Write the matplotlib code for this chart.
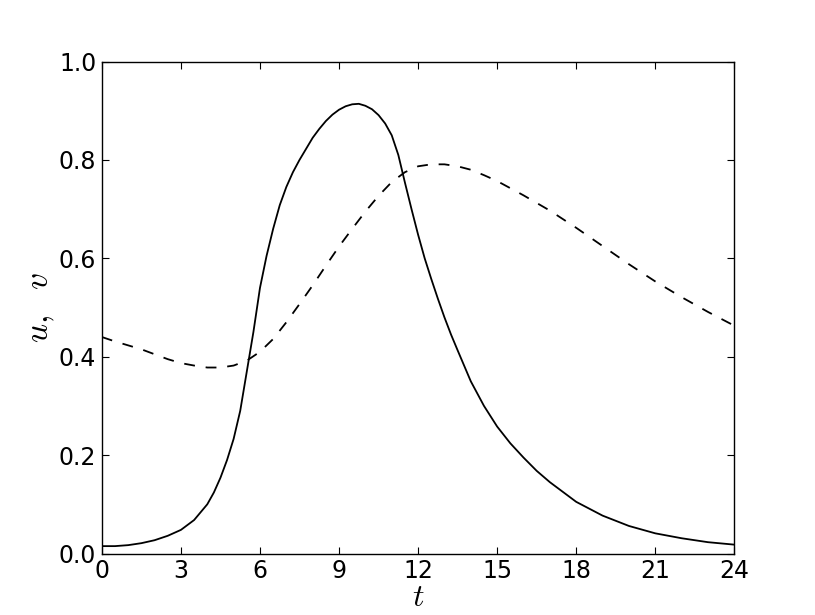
import matplotlib
matplotlib.use('Agg')
import matplotlib.pyplot as plt

# solid curve u(t)
t_u = [0, 0.5, 1, 1.5, 2, 2.5, 3, 3.5, 4, 4.25, 4.5, 4.75, 5, 5.25, 5.5, 5.75, 6,
       6.25, 6.5, 6.75, 7, 7.25, 7.5, 8, 8.25, 8.5, 8.75, 9, 9.25, 9.5, 9.75, 10,
       10.25, 10.5, 10.75, 11, 11.25, 11.5, 11.75, 12, 12.25, 12.5, 12.75, 13,
       13.25, 13.5, 14, 14.5, 15, 15.5, 16, 16.5, 17, 18, 19, 20, 21, 22, 23, 24]
u = [0.015, 0.015, 0.017, 0.021, 0.027, 0.036, 0.048, 0.068, 0.1, 0.124, 0.154,
     0.19, 0.233, 0.29, 0.37, 0.45, 0.54, 0.605, 0.66, 0.708, 0.745, 0.775, 0.8,
     0.845, 0.863, 0.879, 0.892, 0.902, 0.909, 0.913, 0.914, 0.91, 0.903, 0.891,
     0.874, 0.85, 0.81, 0.754, 0.7, 0.648, 0.6, 0.558, 0.518, 0.48, 0.445, 0.413,
     0.35, 0.3, 0.258, 0.224, 0.195, 0.168, 0.145, 0.105, 0.077, 0.056, 0.041,
     0.031, 0.023, 0.018]

# dashed curve v(t)
t_v = [0, 0.5, 1, 1.5, 2, 2.5, 3, 3.5, 4, 4.5, 5, 5.5, 6, 6.5, 7, 7.5, 8, 8.5, 9,
       9.5, 10, 10.5, 11, 11.5, 12, 12.5, 13, 13.5, 14, 14.5, 15, 16, 17, 18, 19,
       20, 21, 22, 23, 24]
v = [0.44, 0.431, 0.423, 0.415, 0.405, 0.395, 0.387, 0.382, 0.378, 0.378, 0.382,
     0.392, 0.41, 0.436, 0.47, 0.507, 0.545, 0.585, 0.624, 0.66, 0.695, 0.727,
     0.755, 0.775, 0.787, 0.791, 0.791, 0.787, 0.78, 0.769, 0.757, 0.728, 0.697,
     0.662, 0.625, 0.588, 0.553, 0.521, 0.491, 0.463]

x_ticks = [0, 3, 6, 9, 12, 15, 18, 21, 24]
y_ticks = [0.0, 0.2, 0.4, 0.6, 0.8, 1.0]

plt.rcParams['mathtext.fontset'] = 'cm'
plt.rcParams['xtick.direction'] = 'in'
plt.rcParams['ytick.direction'] = 'in'

fig = plt.figure(figsize=(8.15, 6.15), dpi=100)
ax = fig.add_axes([0.125, 0.1, 0.776, 0.8])

ax.plot(t_u, u, color='black', lw=1.3)
ax.plot(t_v, v, color='black', lw=1.3, linestyle=(0, (6, 6)))

ax.set_xlim(0, 24)
ax.set_ylim(0, 1.0)
ax.set_xticks(x_ticks)
ax.set_yticks(y_ticks)
ax.set_yticklabels(['%.1f' % y for y in y_ticks])
ax.tick_params(labelsize=17, length=5, width=0.8, top=True, right=True, pad=4)
for s in ax.spines.values():
    s.set_linewidth(1.0)

ax.set_xlabel(r'$t$', fontsize=23, labelpad=-1)
ax.set_ylabel(r'$u,\ \ v$', fontsize=24, labelpad=1)

fig.savefig('out.png', dpi=100)
